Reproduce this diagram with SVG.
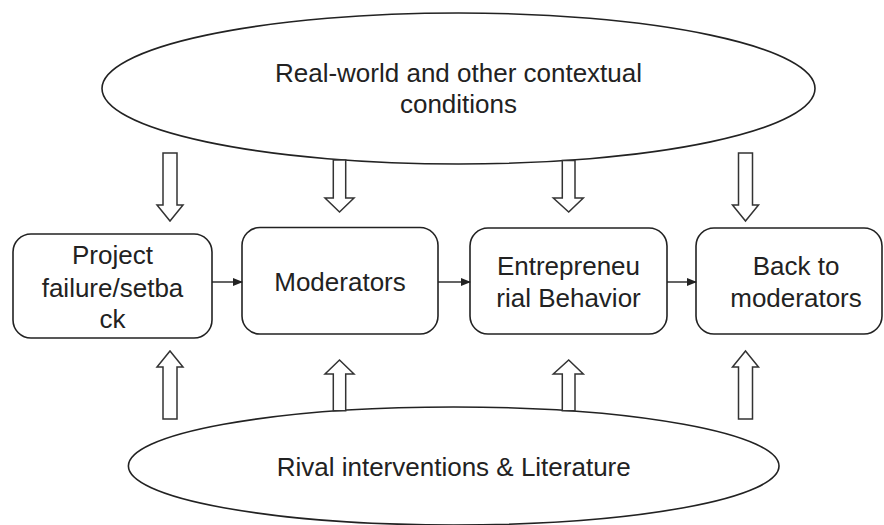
<svg xmlns="http://www.w3.org/2000/svg" width="884" height="525" viewBox="0 0 884 525">
  <style>
    .shape { fill: #ffffff; stroke: #222222; stroke-width: 1.6; }
    .block { fill: #ffffff; stroke: #333333; stroke-width: 1.5; stroke-linejoin: miter; }
    .label { font-family: "Liberation Sans", Arial, sans-serif; font-size: 26px; fill: #222222; text-anchor: middle; }
    .link { fill: none; stroke: #222222; stroke-width: 1.4; }
  </style>
  <defs>
    <marker id="head" markerWidth="10" markerHeight="8" refX="9" refY="4" orient="auto" markerUnits="userSpaceOnUse">
      <path d="M0,0 L10,4 L0,8 Z" fill="#222222"/>
    </marker>
  </defs>
  <rect width="884" height="525" fill="#ffffff"/>

  <!-- context ellipse (top) -->
  <g id="context">
    <ellipse class="shape" cx="458.5" cy="88.5" rx="356.5" ry="75.5"/>
    <text class="label" x="458.5" y="82">Real-world and other contextual</text>
    <text class="label" x="458.5" y="113">conditions</text>
  </g>

  <!-- rival ellipse (bottom) -->
  <g id="rival">
    <ellipse class="shape" cx="453.7" cy="466" rx="325.3" ry="59"/>
    <text class="label" x="453.7" y="476">Rival interventions &amp; Literature</text>
  </g>

  <!-- process boxes -->
  <g id="failure">
    <rect class="shape" x="13" y="234" width="199" height="104" rx="18"/>
    <text class="label" x="112.5" y="264">Project</text>
    <text class="label" x="112.5" y="297">failure/setba</text>
    <text class="label" x="112.5" y="328">ck</text>
  </g>
  <g id="moderators">
    <rect class="shape" x="242" y="227.5" width="196" height="106.5" rx="18"/>
    <text class="label" x="340" y="291">Moderators</text>
  </g>
  <g id="behavior">
    <rect class="shape" x="470" y="228" width="197" height="106" rx="18"/>
    <text class="label" x="568.5" y="275">Entrepreneu</text>
    <text class="label" x="568.5" y="307">rial Behavior</text>
  </g>
  <g id="back">
    <rect class="shape" x="696" y="228" width="186" height="106" rx="18"/>
    <text class="label" x="796" y="275">Back to</text>
    <text class="label" x="796" y="307">moderators</text>
  </g>

  <!-- influences and flow -->
  <g id="connectors">
    <!-- downward block arrows from the context ellipse -->
    <polygon class="block" points="163,153 177,153 177,205 183,205 170,221 157,205 163,205"/>
    <polygon class="block" points="333.3,160 345.7,160 345.7,198 354,198 339.5,212 325,198 333.3,198"/>
    <polygon class="block" points="562.3,160.5 575,160.5 575,198 583.3,198 568.7,212 553.3,198 562.3,198"/>
    <polygon class="block" points="738.5,153 752.5,153 752.5,205 758.5,205 745.5,221 732.5,205 738.5,205"/>

    <!-- upward block arrows from the rival ellipse -->
    <polygon class="block" points="163,419 177,419 177,367 183,367 170,351 157,367 163,367"/>
    <polygon class="block" points="333.3,410.8 345.7,410.8 345.7,374 354,374 339.5,360 325,374 333.3,374"/>
    <polygon class="block" points="562.3,410.8 575,410.8 575,374 583.3,374 568.7,360 553.3,374 562.3,374"/>
    <polygon class="block" points="738.5,419 752.5,419 752.5,367 758.5,367 745.5,351 732.5,367 738.5,367"/>

    <!-- flow between boxes -->
    <line class="link" x1="212" y1="282" x2="242" y2="282" marker-end="url(#head)"/>
    <line class="link" x1="438" y1="282" x2="470" y2="282" marker-end="url(#head)"/>
    <line class="link" x1="667" y1="282" x2="696" y2="282" marker-end="url(#head)"/>
  </g>
</svg>
